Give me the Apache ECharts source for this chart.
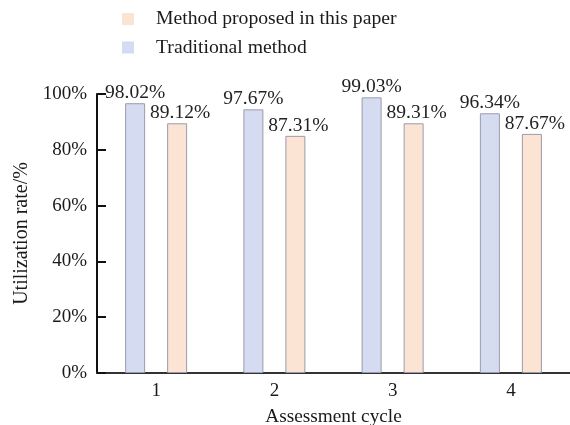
<!DOCTYPE html>
<html>
<head>
<meta charset="utf-8">
<script src="https://cdn.jsdelivr.net/npm/echarts@6/dist/echarts.min.js"></script>
<style>
html,body{margin:0;padding:0;background:#fff;}
#chart{width:570px;height:425px;}
</style>
</head>
<body>
<div id="chart"></div>
<script>
var cycles = ['1', '2', '3', '4'];
// bar heights as drawn in the figure
var traditionalRate = [96.7, 94.5, 98.8, 93.1];
var proposedRate = [89.5, 85.0, 89.5, 85.7];
// values printed above the bars
var traditionalLabels = ['98.02%', '97.67%', '99.03%', '96.34%'];
var proposedLabels = ['89.12%', '87.31%', '89.31%', '87.67%'];
var yTicks = [0, 20, 40, 60, 80, 100];

var font = '"Liberation Serif", "Times New Roman", serif';
var txt = '#1a1a1a';
var myChart = echarts.init(document.getElementById('chart'));

var option = {
    textStyle: {fontFamily: font},
    legend: {
        orient: 'vertical',
        left: 117,
        top: 4,
        icon: 'rect',
        itemWidth: 12,
        itemHeight: 12,
        itemGap: 8.5,
        itemStyle: {borderWidth: 0},
        data: ['Method proposed in this paper', 'Traditional method'],
        textStyle: {fontFamily: font, fontSize: 19.7, color: txt, padding: [0, 0, 0, 17]}
    },
    grid: {left: 97, right: 0, top: 94, bottom: 52, outerBoundsMode: 'none', containLabel: false},
    xAxis: {
        type: 'category',
        data: cycles,
        name: 'Assessment cycle',
        nameLocation: 'middle',
        nameGap: 34,
        nameTextStyle: {fontFamily: font, fontSize: 19.3, color: txt},
        axisLine: {lineStyle: {color: '#333', width: 2}},
        axisTick: {show: false},
        axisLabel: {fontFamily: font, fontSize: 19, color: txt, margin: 9}
    },
    yAxis: {
        type: 'value',
        min: 0,
        max: 100,
        interval: 20,
        name: 'Utilization rate/%',
        nameLocation: 'middle',
        nameGap: 63,
        nameTextStyle: {fontFamily: font, fontSize: 20, color: txt},
        axisLine: {show: true, lineStyle: {color: '#111', width: 2}},
        axisTick: {show: true, inside: true, length: 9, lineStyle: {width: 2, color: '#111'}},
        splitLine: {show: false},
        axisLabel: {
            fontFamily: font, fontSize: 19, color: txt, margin: 10,
            formatter: function (v) { return yTicks.indexOf(v) >= 0 ? v + '%' : ''; }
        }
    },
    series: [
        {
            name: 'Traditional method',
            type: 'bar',
            data: traditionalRate,
            barWidth: 20,
            barGap: '110%',
            itemStyle: {color: '#d5dbf1', borderColor: '#9a9cab', borderWidth: 1},
            label: {
                show: true, position: 'top', distance: 0,
                fontFamily: font, fontSize: 19.5, color: '#222',
                formatter: function (p) { return traditionalLabels[p.dataIndex]; }
            }
        },
        {
            name: 'Method proposed in this paper',
            type: 'bar',
            data: proposedRate,
            barWidth: 20,
            itemStyle: {color: '#fbe4d3', borderColor: '#9a9cab', borderWidth: 1},
            label: {
                show: true, position: 'top', distance: 0, offset: [3, 0],
                fontFamily: font, fontSize: 19.5, color: '#222',
                formatter: function (p) { return proposedLabels[p.dataIndex]; }
            }
        }
    ]
};
myChart.setOption(option);
</script>
</body>
</html>
